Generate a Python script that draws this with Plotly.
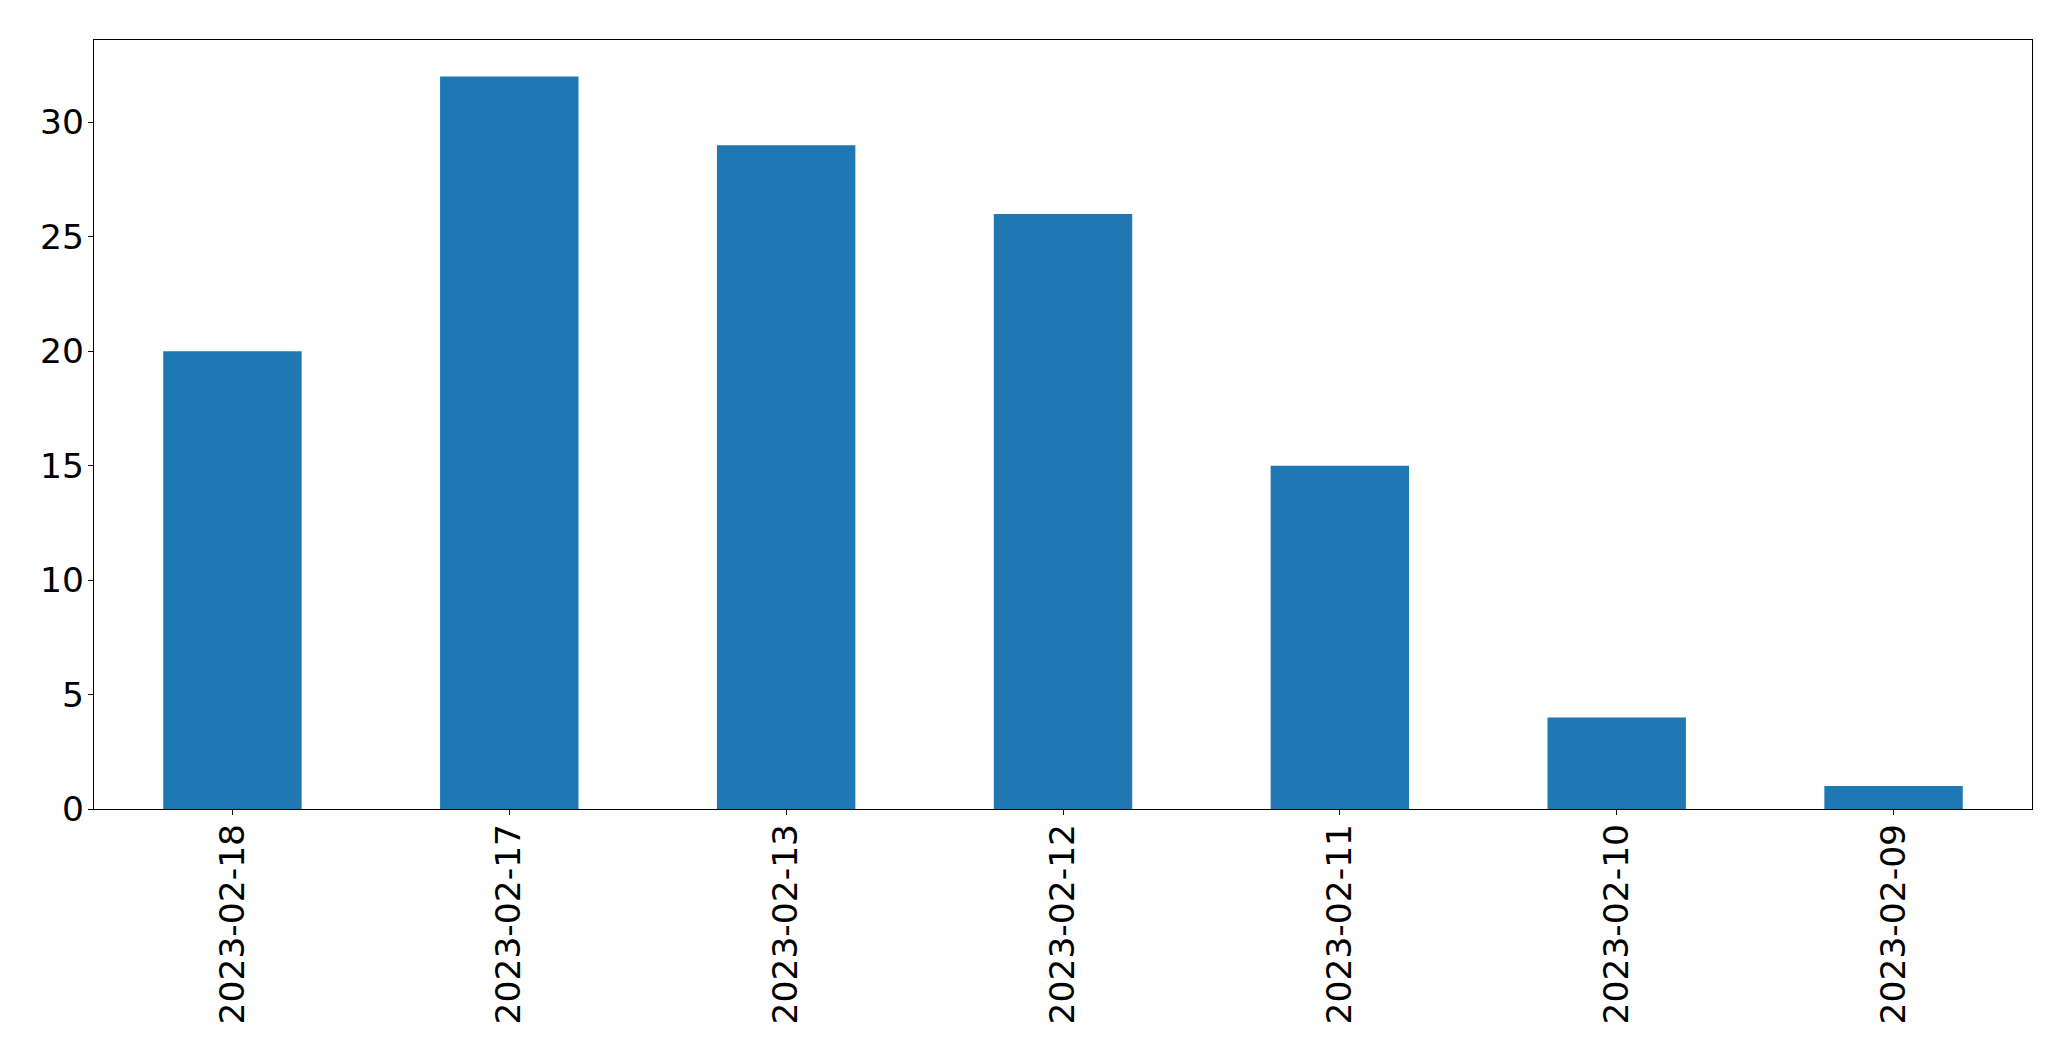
import plotly.graph_objects as go

categories = ["2023-02-18", "2023-02-17", "2023-02-13", "2023-02-12", "2023-02-11", "2023-02-10", "2023-02-09"]
values = [20, 32, 29, 26, 15, 4, 1]
y_ticks = [0, 5, 10, 15, 20, 25, 30]

fig = go.Figure(go.Bar(x=categories, y=values, marker=dict(color="#1f77b4", line=dict(width=0)), width=0.5))

# page body has an 8px margin, so the figure is offset by 8px
fig.update_layout(
    width=2063, height=1053,
    margin=dict(l=86, r=39, t=32, b=252, autoexpand=False),
    plot_bgcolor="white", paper_bgcolor="white",
    font=dict(family="DejaVu Sans", size=34.5, color="black"),
    showlegend=False,
)
fig.update_xaxes(
    type="category", range=[-0.5, 6.5], tickangle=-90,
    showline=True, linecolor="black", linewidth=1.3, mirror=True,
    ticks="outside", ticklen=5, tickwidth=1.3, tickcolor="black",
    showgrid=False, zeroline=False, ticklabelstandoff=-5,
)
fig.update_yaxes(
    range=[0, 33.6], tickvals=y_ticks,
    showline=True, linecolor="black", linewidth=1.3, mirror=True,
    ticks="outside", ticklen=5, tickwidth=1.3, tickcolor="black",
    showgrid=False, zeroline=False, ticklabelstandoff=-3,
)

fig.write_html("out.html")
